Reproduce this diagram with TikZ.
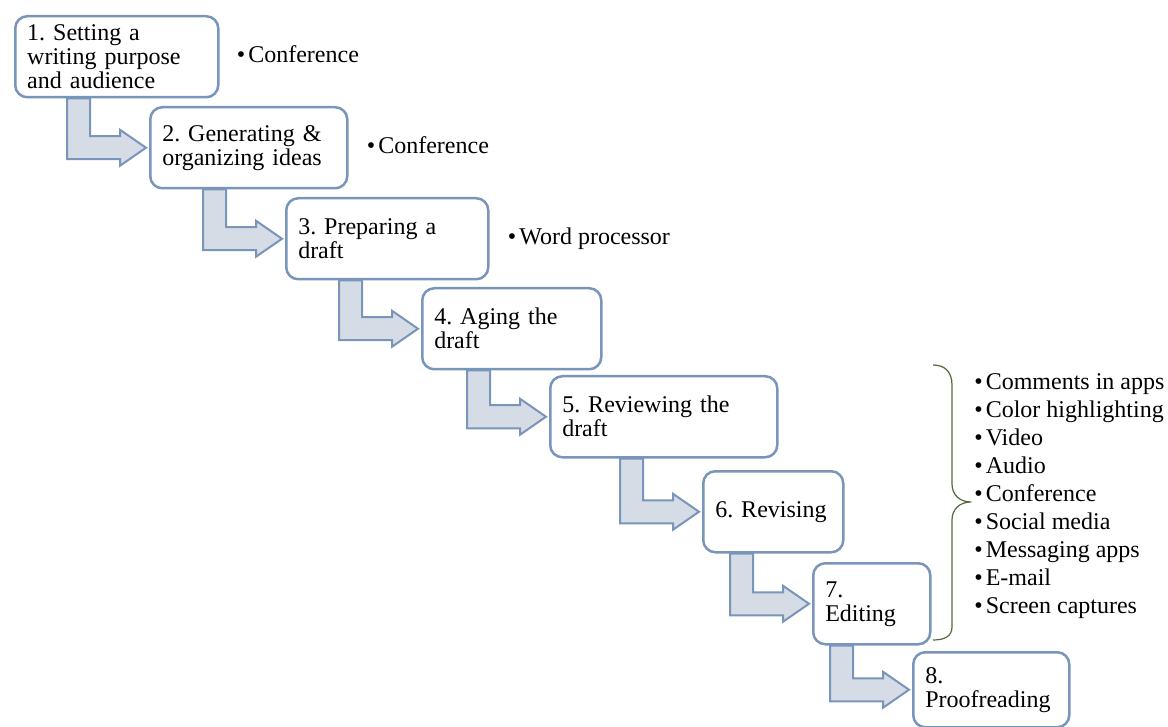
\documentclass[tikz,border=0pt]{standalone}
\usepackage{fontspec}
\setmainfont{Liberation Serif}
\usetikzlibrary{positioning,calc,backgrounds}
\definecolor{boxline}{RGB}{122,149,186}
\definecolor{arrowfill}{RGB}{213,220,230}
\definecolor{bracecol}{RGB}{84,104,62}
\frenchspacing
\begin{document}
\begin{tikzpicture}[x=0.5pt,y=-0.5pt, line join=round,
	box/.style={draw=boxline,line width=1.25pt,fill=white,rounded corners=6pt,anchor=north west,
		align=left,inner xsep=6pt,inner ysep=0pt,minimum height=40.5pt,font=\fontsize{12}{12}\selectfont},
	note/.style={anchor=west,inner sep=0pt,text height=8pt,text depth=2pt,font=\fontsize{12}{12}\selectfont},
	bent/.style={draw=boxline,line width=1pt,fill=arrowfill,line join=miter}]
	\useasboundingbox (0,0) rectangle (1168,727);
	% steps
	\node[box,text width=89.5pt] (b1) at (14,15) {1. Setting a\\writing purpose\\and audience};
	\node[box,text width=86.5pt] (b2) at (149,106) {2. Generating \&\\organizing ideas};
	\node[box,text width=89pt] (b3) at (285,197) {3. Preparing a\\draft};
	\node[box,text width=77.5pt] (b4) at (421,287) {4. Aging the\\draft};
	\node[box,text width=101.5pt] (b5) at (549,375) {5. Reviewing the\\draft};
	\node[box,text width=58pt] (b6) at (702,470) {6. Revising};
	\node[box,text width=46.5pt] (b7) at (812,562) {7.\\Editing};
	\node[box,text width=66pt,minimum height=37.5pt] (b8) at (912,651) {8.\\Proofreading};
	% bent arrows
	\begin{scope}[on background layer]
		\foreach \s/\t in {b1/b2,b2/b3,b3/b4,b4/b5,b5/b6,b6/b7,b7/b8}
		\path[bent] let \p1=(\s.south), \p2=(\t.west) in
			(\x2-41pt,\y1) -- (\x2-29.5pt,\y1) -- (\x2-29.5pt,\y2+5.75pt) -- (\x2-14.5pt,\y2+5.75pt)
			-- (\x2-14.5pt,\y2+9pt) -- (\x2-1.5pt,\y2) -- (\x2-14.5pt,\y2-9pt) -- (\x2-14.5pt,\y2-5.75pt)
			-- (\x2-41pt,\y2-5.75pt) -- cycle;
	\end{scope}
	% tools
	\node[note,right=8.5pt of b1] (n1) {\textbullet\hspace{1.5pt}Conference};
	\node[note,right=9pt of b2] (n2) {\textbullet\hspace{1.5pt}Conference};
	\node[note,right=9pt of b3] (n3) {\textbullet\hspace{1.5pt}Word processor};
	\node[anchor=west,inner sep=0pt,align=left,font=\fontsize{12}{14}\selectfont] (tools) at (974,496)
		{\textbullet\hspace{1.5pt}Comments in apps\\\textbullet\hspace{1.5pt}Color highlighting\\
		\textbullet\hspace{1.5pt}Video\\\textbullet\hspace{1.5pt}Audio\\\textbullet\hspace{1.5pt}Conference\\
		\textbullet\hspace{1.5pt}Social media\\\textbullet\hspace{1.5pt}Messaging apps\\
		\textbullet\hspace{1.5pt}E-mail\\\textbullet\hspace{1.5pt}Screen captures};
	\coordinate (tip) at (971,502);
	\draw[bracecol,line width=0.6pt] (933,365) .. controls (945,365) and (952,372) .. (952,385) -- (952,484)
		.. controls (952,495) and (960,502) .. (tip) .. controls (960,502) and (952,509) .. (952,520)
		-- (952,627) .. controls (952,636) and (945,640) .. (933,640);
\end{tikzpicture}
\end{document}
